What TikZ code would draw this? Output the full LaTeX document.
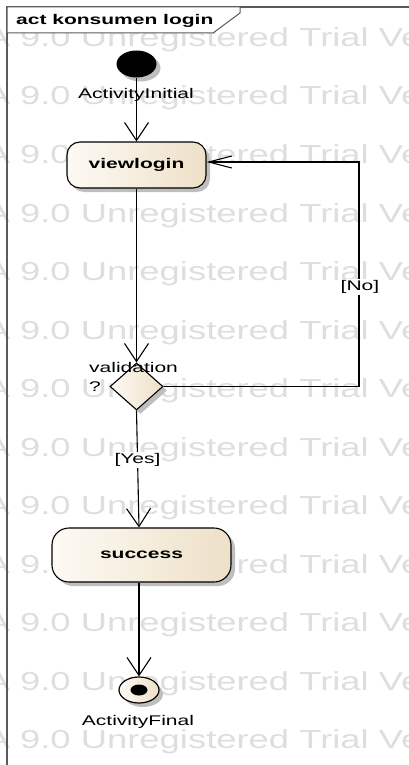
\documentclass[tikz,border=0pt]{standalone}
\usepackage{fontspec}
\usetikzlibrary{shapes.geometric,shadows,arrows.meta,calc}
\newfontfamily\eafont{Liberation Sans}[FakeStretch=1.5]
\newfontfamily\wmfont{Liberation Sans}[FakeStretch=1.4]
\definecolor{creamL}{RGB}{253,250,244}
\definecolor{creamR}{RGB}{238,224,200}
\definecolor{wmgray}{RGB}{222,222,222}
\definecolor{framec}{RGB}{90,90,90}
\definecolor{shad}{RGB}{190,190,190}
\begin{document}
\begin{tikzpicture}[x=1pt,y=-1pt,
  every node/.style={font=\eafont\fontsize{14}{19}\selectfont, inner sep=0pt},
  bshadow/.style={drop shadow={shadow xshift=4pt, shadow yshift=-4pt, fill=shad, opacity=1}},
  actbox/.style={draw=black, line width=1.1pt, left color=creamL, right color=creamR,
    font=\eafont\bfseries\fontsize{14}{17}\selectfont, bshadow},
  wmtext/.style={anchor=base west, text=wmgray, font=\wmfont\fontsize{26}{26}\selectfont},
  flow/.style={line width=1.1pt, -{Straight Barb[length=18pt,width=24pt]}},
  hflow/.style={line width=1.1pt, -{Straight Barb[length=23pt,width=12pt]}},
  guard/.style={fill=white, inner sep=1pt}
]
\useasboundingbox (0,0) rectangle (409,765);
% watermark
\begin{scope}
\clip (0,0) rectangle (409,765);
\foreach \k in {0,...,12}
  \node[wmtext] (wm\k) at (-38.7, 46.5+58.5*\k) {EA 9.0 Unregistered Trial Version};
\end{scope}
% frame
\draw[framec, line width=1.3pt] (409,7) -- (7,7) -- (7,765);
\draw[framec, line width=1pt, fill=white] (7,7) -- (240,7) -- (240,13) -- (213,33) -- (7,33) -- cycle;
\node[anchor=base west, font=\eafont\bfseries\fontsize{14}{17}\selectfont] (title) at (16,25) {act konsumen login};
% nodes
\node[ellipse, fill=black, minimum width=40pt, minimum height=27pt, bshadow] (ini) at (136.5,64) {};
\node[anchor=base] (inilbl) at (136,98.5) {ActivityInitial};
\node[actbox, rounded corners=13pt, minimum width=139pt, minimum height=46pt] (vl) at (136.5,165) {viewlogin};
\node[diamond, draw=black, line width=1.1pt, left color=creamL, right color=creamR, minimum width=53pt, minimum height=47pt, bshadow] (dia) at (136.5,386.5) {};
\node[anchor=north west, align=left] (dialbl) at (89,362.5) {validation\\?};
\node[actbox, rounded corners=17pt, minimum width=179pt, minimum height=54pt] (succ) at (141.5,555) {success};
\node[ellipse, draw=black, line width=1.2pt, left color=creamL, right color=creamR, minimum width=40pt, minimum height=26pt, bshadow] (fin) at (139,690) {};
\node[ellipse, fill=black, minimum width=17pt, minimum height=11pt] (finc) at (fin.center) {};
\node[anchor=base] (finlbl) at (138,725) {ActivityFinal};
% connectors
\draw[flow] (ini) -- (vl);
\draw[flow] (vl) -- (dia);
\coordinate (c1) at (359,386.5);
\coordinate (c2) at (359,162);
\draw[hflow] (dia.east) -- (c1) -- (c2) -- (c2 -| vl.east);
\node[guard] (no) at (360,287) {[No]};
\draw[flow] (dia.south) -- ([xshift=-2.5pt]succ.north);
\node[guard] (yes) at (137.5,460) {[Yes]};
\draw[flow] ([xshift=-2.5pt]succ.south) -- (fin.north);
\end{tikzpicture}
\end{document}
